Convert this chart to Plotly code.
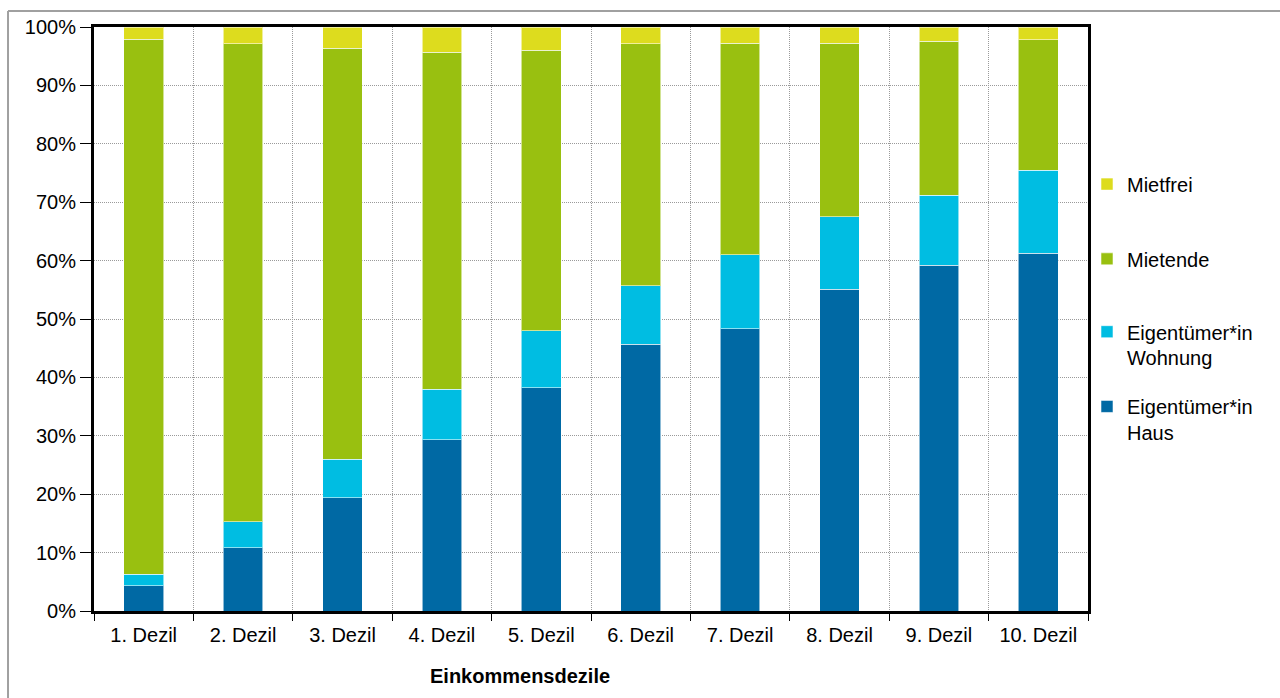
import plotly.graph_objects as go

# Einkommensdezile und Wohnstatus der Haushalte (Anteile in %)
dezile = ["1. Dezil", "2. Dezil", "3. Dezil", "4. Dezil", "5. Dezil",
          "6. Dezil", "7. Dezil", "8. Dezil", "9. Dezil", "10. Dezil"]
eigentum_haus = [4.3, 10.8, 19.4, 29.3, 38.2, 45.7, 48.3, 55.1, 59.2, 61.3]
eigentum_wohnung = [2.0, 4.5, 6.6, 8.7, 9.8, 10.0, 12.7, 12.4, 12.0, 14.2]
mietende = [91.6, 81.8, 70.4, 57.7, 48.0, 41.4, 36.2, 29.7, 26.4, 22.3]
mietfrei = [2.1, 2.9, 3.6, 4.3, 4.0, 2.9, 2.8, 2.8, 2.4, 2.2]

y_ticks = [0, 10, 20, 30, 40, 50, 60, 70, 80, 90, 100]
y_ticklabels = [f"{v}%" for v in y_ticks]

FONT = "Liberation Sans"
positions = list(range(1, len(dezile) + 1))
boundaries = [p - 0.5 for p in positions] + [positions[-1] + 0.5]

series = [
    ("Eigentümer*in<br>Haus", eigentum_haus, "#0069A4", "legend4"),
    ("Eigentümer*in<br>Wohnung", eigentum_wohnung, "#00BDE2", "legend3"),
    ("Mietende", mietende, "#99C010", "legend2"),
    ("Mietfrei", mietfrei, "#DDDC1E", "legend"),
]

fig = go.Figure()
for name, values, color, legend in series:
    fig.add_trace(go.Bar(
        x=positions, y=values, name=name, width=0.4, showlegend=True,
        marker=dict(color=color, line=dict(color="rgba(255,255,255,0.55)", width=1)),
        legend=legend,
    ))


def legend_box(ypos):
    return dict(
        x=0.999, xanchor="left", y=ypos, yanchor="middle", valign="top",
        font=dict(family=FONT, size=20, color="#000000"),
        bgcolor="rgba(0,0,0,0)",
    )


grid_dash = "1px,1px"

fig.update_layout(
    width=1280, height=698,
    margin=dict(l=94, r=192, t=27, b=87),
    paper_bgcolor="white", plot_bgcolor="white",
    barmode="stack", showlegend=True,
    font=dict(family=FONT, size=20, color="#000000"),
    legend=legend_box(0.731),
    legend2=legend_box(0.603),
    legend3=legend_box(0.456),
    legend4=legend_box(0.328),
    xaxis=dict(
        range=[0.5, 10.5], tickmode="array", tickvals=positions, ticktext=dezile,
        ticks="", showgrid=False, zeroline=False,
        showline=True, linewidth=3, linecolor="#000000", mirror=True,
        ticklabelstandoff=4,
        tickfont=dict(family=FONT, size=20, color="#000000"),
        minor=dict(tickvals=boundaries, showgrid=True, gridcolor="#9A9A9A",
                   griddash=grid_dash, gridwidth=1, ticks="outside",
                   ticklen=7, tickcolor="#000000", tickwidth=1),
    ),
    yaxis=dict(
        range=[0, 100], tickmode="array", tickvals=y_ticks, ticktext=y_ticklabels,
        ticks="outside", ticklen=11, tickcolor="#000000", tickwidth=1,
        tickfont=dict(family=FONT, size=20, color="#000000"),
        showgrid=True, gridcolor="#9A9A9A", griddash=grid_dash, gridwidth=1,
        zeroline=False, showline=True, linewidth=3, linecolor="#000000",
        mirror=True,
    ),
    annotations=[dict(
        text="<b>Einkommensdezile</b>", xref="paper", yref="paper",
        x=0.4286, y=-0.111, xanchor="center", yanchor="middle",
        showarrow=False, font=dict(family=FONT, size=20, color="#000000"),
    )],
    shapes=[
        dict(type="line", xref="paper", yref="paper", x0=-0.0865, x1=1.2,
             y0=1.0274, y1=1.0274, line=dict(color="#A0A0A0", width=2)),
        dict(type="line", xref="paper", yref="paper", x0=-0.0865, x1=-0.0865,
             y0=1.0274, y1=-0.16, line=dict(color="#A0A0A0", width=2)),
    ],
)

fig.write_html("out.html")
